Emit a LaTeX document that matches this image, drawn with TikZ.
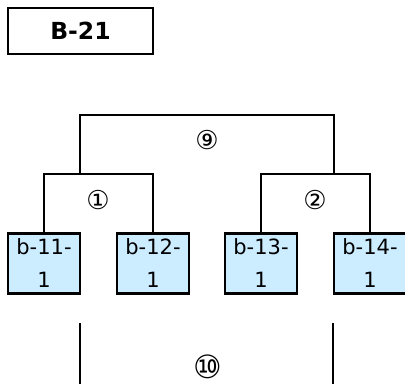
\documentclass[tikz,border=0pt]{standalone}
\usepackage{fontspec}
\setmainfont{DejaVu Sans}
\definecolor{leafblue}{RGB}{204,236,255}
\tikzset{
  leaf/.style={draw, line width=2.3pt, fill=leafblue, minimum width=72pt, minimum height=60pt,
    inner sep=0pt, align=center, font=\fontsize{21}{33}\selectfont},
  mark num/.style={font=\fontsize{26}{26}\selectfont, inner sep=0pt},
  link/.style={line width=2.3pt}
}
\begin{document}
\begin{tikzpicture}[x=1pt, y=-1pt]
\useasboundingbox (0,0) rectangle (405,384);
\node[draw, line width=2.3pt, minimum width=145pt, minimum height=46pt, inner sep=0pt,
  font=\bfseries\fontsize{23.5}{23.5}\selectfont] (title) at (80.5,31) {B-21};

\foreach \x/\n in {44/11,153/12,261/13,370/14} \node[leaf] (b\n) at (\x,263.5) {b-\n-\\1};

\coordinate (j1) at (98.5,174); \coordinate (j2) at (316,174);
\coordinate (s1) at (80,174); \coordinate (s2) at (334,174); \coordinate (t9) at (207,115);
\draw[link] (b11.north) |- (j1) -| (b12.north);
\draw[link] (b13.north) |- (j2) -| (b14.north);
\draw[link] (s1) |- (t9) -| (s2);

\coordinate (u1) at (80,323); \coordinate (d1) at (80,384);
\coordinate (u2) at (333,323); \coordinate (d2) at (333,384);
\draw[link] (u1) -- (d1) (u2) -- (d2);

\node[mark num] (n9) at (207,140) {⑨};
\node[mark num] (n1) at (98,200) {①};
\node[mark num] (n2) at (315,200) {②};
\node[mark num, font=\fontsize{32}{32}\selectfont] (n10) at (208,367) {⑩};
\end{tikzpicture}
\end{document}
